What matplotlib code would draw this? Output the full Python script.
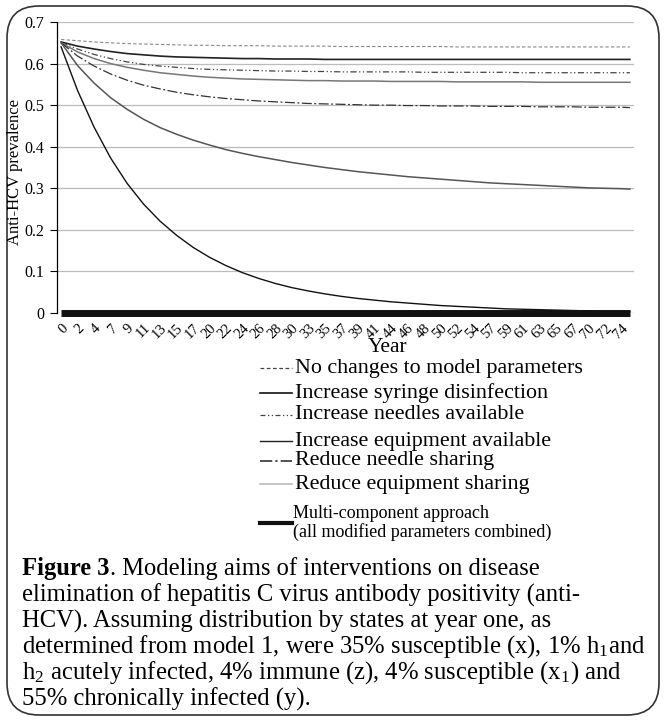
import matplotlib
matplotlib.use("Agg")
import matplotlib.pyplot as plt
from matplotlib.patches import FancyBboxPatch
from matplotlib.lines import Line2D
from matplotlib.transforms import IdentityTransform

plt.rcParams['font.family'] = ['Liberation Serif', 'DejaVu Serif']
plt.rcParams['mathtext.fontset'] = 'stix'

# Year labels on the category axis (every other category is labelled)
years = [0, 2, 4, 7, 9, 11, 13, 15, 17, 20, 22, 24, 26, 28, 30, 33, 35, 37,
         39, 41, 44, 46, 48, 50, 52, 54, 57, 59, 61, 63, 65, 67, 70, 72, 74]
# category index of each value (last value is the unlabelled final year)
cats = [2 * i for i in range(len(years))] + [69]

no_change = [0.658, 0.655, 0.652, 0.650, 0.648, 0.647, 0.646, 0.645, 0.644, 0.644,
             0.643, 0.643, 0.643, 0.642, 0.642, 0.642, 0.642, 0.641, 0.641, 0.641,
             0.641, 0.641, 0.641, 0.641, 0.640, 0.640, 0.640, 0.640, 0.640, 0.640,
             0.640, 0.640, 0.640, 0.640, 0.640, 0.640]
syringe = [0.652, 0.642, 0.635, 0.629, 0.624, 0.621, 0.618, 0.616, 0.615, 0.614,
           0.613, 0.612, 0.612, 0.611, 0.611, 0.611, 0.610, 0.610, 0.610, 0.610,
           0.610, 0.610, 0.610, 0.610, 0.610, 0.610, 0.610, 0.610, 0.610, 0.610,
           0.610, 0.610, 0.610, 0.610, 0.610, 0.610]
needles = [0.650, 0.635, 0.622, 0.612, 0.604, 0.598, 0.594, 0.591, 0.588, 0.586,
           0.585, 0.584, 0.583, 0.582, 0.582, 0.581, 0.581, 0.580, 0.580, 0.580,
           0.580, 0.580, 0.579, 0.579, 0.579, 0.579, 0.579, 0.579, 0.578, 0.578,
           0.578, 0.578, 0.578, 0.578, 0.578, 0.578]
equipment = [0.650, 0.628, 0.612, 0.600, 0.591, 0.584, 0.578, 0.574, 0.570, 0.567,
             0.565, 0.563, 0.562, 0.561, 0.560, 0.559, 0.559, 0.558, 0.558, 0.558,
             0.557, 0.557, 0.557, 0.557, 0.556, 0.556, 0.556, 0.556, 0.556, 0.555,
             0.555, 0.555, 0.555, 0.555, 0.555, 0.555]
needle_share = [0.650, 0.618, 0.594, 0.575, 0.560, 0.548, 0.539, 0.531, 0.525, 0.520,
                0.516, 0.513, 0.510, 0.508, 0.506, 0.504, 0.503, 0.502, 0.501, 0.500,
                0.500, 0.499, 0.499, 0.498, 0.498, 0.498, 0.497, 0.497, 0.497, 0.496,
                0.496, 0.496, 0.495, 0.495, 0.495, 0.494]
equip_share = [0.650, 0.595, 0.553, 0.518, 0.490, 0.466, 0.446, 0.430, 0.416, 0.404,
               0.393, 0.384, 0.376, 0.369, 0.362, 0.356, 0.350, 0.345, 0.340, 0.336,
               0.332, 0.328, 0.325, 0.322, 0.319, 0.316, 0.313, 0.311, 0.309, 0.307,
               0.305, 0.303, 0.301, 0.300, 0.299, 0.298]
fast_drop = [0.640, 0.535, 0.447, 0.373, 0.312, 0.262, 0.221, 0.187, 0.158, 0.134,
             0.114, 0.097, 0.083, 0.071, 0.061, 0.053, 0.046, 0.040, 0.035, 0.031,
             0.027, 0.024, 0.021, 0.018, 0.016, 0.014, 0.012, 0.010, 0.009, 0.008,
             0.007, 0.006, 0.005, 0.004, 0.003, 0.003]
multi = [0.0] * len(cats)

labels = ["No changes to model parameters",
          "Increase syringe disinfection",
          "Increase needles available",
          "Increase equipment available",
          "Reduce needle sharing",
          "Reduce equipment sharing",
          "Multi-component approach\n(all modified parameters combined)"]

fig = plt.figure(figsize=(6.65, 7.2), dpi=100)

# rounded frame round the whole figure
frame = FancyBboxPatch((7, 5), 652, 709, boxstyle="round,pad=0,rounding_size=32",
                       transform=IdentityTransform(), facecolor='none',
                       edgecolor='#333333', linewidth=1.2)
fig.add_artist(frame)

ax = fig.add_axes([57 / 665, 1 - 313 / 720, 577 / 665, 291 / 720])

ax.plot(cats, no_change, color='#888888', lw=0.8, dashes=(3, 2))
ax.plot(cats, syringe, color='#222222', lw=1.2)
ax.plot(cats, needles, color='#444444', lw=0.9, dashes=(5, 2, 1, 2, 1, 2))
ax.plot(cats, equipment, color='#777777', lw=1.1)
ax.plot(cats, needle_share, color='#333333', lw=0.9, dashes=(8, 2, 1.5, 2))
ax.plot(cats, equip_share, color='#555555', lw=1.1)
ax.plot(cats, fast_drop, color='#111111', lw=1.0)
ax.plot(cats, multi, color='#111111', lw=5, solid_capstyle='butt', clip_on=False)

ax.set_xlim(-0.5, 69.5)
ax.set_ylim(0, 0.7)
ax.set_yticks([0, 0.1, 0.2, 0.3, 0.4, 0.5, 0.6, 0.7])
ax.set_yticklabels(["0", "0.1", "0.2", "0.3", "0.4", "0.5", "0.6", "0.7"], fontsize=11.5)
ax.set_xticks(cats[:-1])
ax.set_xticklabels([str(y) for y in years], rotation=45, ha='right', va='top',
                   rotation_mode='anchor', fontsize=10.5)
ax.tick_params(axis='x', length=0, pad=6)
ax.tick_params(axis='y', length=5, width=0.8, pad=4, direction='out')
ax.grid(axis='y', color='#bbbbbb', lw=0.9)
ax.set_axisbelow(True)
for s in ['top', 'right', 'bottom']:
    ax.spines[s].set_visible(False)
ax.spines['left'].set_linewidth(0.9)

fig.text(15 / 665, 1 - 172 / 720, "Anti-HCV prevalence", fontsize=12,
         rotation=90, ha='center', va='center')
fig.text(388 / 665, 1 - 347 / 720, "Year", fontsize=15.5, ha='center', va='center')

# legend, drawn by hand below the plot
leg_y = [368, 393, 415, 441, 461, 484, 523]
styles = [dict(color='#444444', lw=0.9, dashes=(3, 2)),
          dict(color='#111111', lw=1.2),
          dict(color='#444444', lw=0.9, dashes=(4, 2, 1, 2, 1, 2)),
          dict(color='#222222', lw=1.0),
          dict(color='#222222', lw=1.1, dashes=(8, 2, 1.5, 2)),
          dict(color='#bbbbbb', lw=1.2),
          dict(color='#111111', lw=3)]
for yy, lab, st in zip(leg_y, labels, styles):
    y_f = 1 - yy / 720
    fig.add_artist(Line2D([260 / 665, 292 / 665], [y_f, y_f], **st))
    if "\n" in lab:
        a, b = lab.split("\n")
        fig.text(293 / 665, 1 - 513 / 720, a, fontsize=13, ha='left', va='center')
        fig.text(293 / 665, 1 - 532 / 720, b, fontsize=13, ha='left', va='center')
    else:
        fig.text(295 / 665, y_f, lab, fontsize=15.8, ha='left', va='center')

# caption
cap_x = 22 / 665
cap_size = 17.7
cap_top = 569
cap_step = 26
renderer = fig.canvas.get_renderer()
t = fig.text(cap_x, 1 - cap_top / 720, "Figure 3", fontsize=cap_size, fontweight='bold',
             ha='left', va='center')
bb = t.get_window_extent(renderer=renderer)
fig.text(bb.x1 / 665, 1 - cap_top / 720,
         ". Modeling aims of interventions on disease", fontsize=cap_size,
         ha='left', va='center')
cap_lines = ["elimination of hepatitis C virus antibody positivity (anti-",
             "HCV). Assuming distribution by states at year one, as",
             r"determined from model 1, were 35% susceptible (x), 1% h$_{\mathregular{1}}$and",
             r"h$_{\mathregular{2}}$ acutely infected, 4% immune (z), 4% susceptible (x$_{\mathregular{1}}$) and",
             "55% chronically infected (y)."]
for i, line in enumerate(cap_lines):
    fig.text(cap_x, 1 - (cap_top + cap_step * (i + 1)) / 720, line, fontsize=cap_size,
             ha='left', va='center')

fig.savefig("out.png", dpi=100)
